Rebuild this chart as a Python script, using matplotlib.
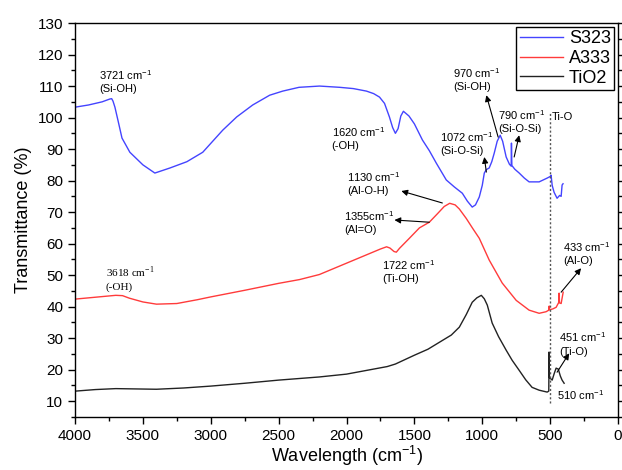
import numpy as np
import matplotlib
matplotlib.use("Agg")
import matplotlib.pyplot as plt
from matplotlib.ticker import MultipleLocator

plt.rcParams['font.family'] = ['Liberation Sans', 'DejaVu Sans']
plt.rcParams['mathtext.fontset'] = 'custom'
plt.rcParams['mathtext.rm'] = 'Liberation Sans'

# ---- data (wavenumber cm-1, transmittance %) ----
s323_wn = [4000, 3900, 3800, 3743, 3730, 3720, 3706, 3684, 3654, 3596, 3500, 3412, 3301,
           3176, 3059, 2912, 2809, 2691, 2566, 2470, 2350, 2199, 2050, 1950, 1853, 1800,
           1757, 1720, 1684, 1660, 1640, 1620, 1600, 1581, 1540, 1500, 1441, 1390, 1338,
           1265, 1206, 1147, 1110, 1074, 1050, 1022, 1000, 985, 970, 949, 930, 912, 890,
           868, 850, 824, 800, 787, 785, 782, 760, 728, 690, 655, 581, 522, 500, 493,
           485, 471, 449, 430, 419, 412, 405]
s323_t = [103.3, 104.0, 105.0, 105.9, 106.0, 105.2, 103.3, 99.2, 93.5, 89.0, 85.0, 82.4, 84.0,
          86.0, 89.0, 96.0, 100.2, 104.0, 107.1, 108.4, 109.6, 110.0, 109.6, 109.2, 108.4, 107.6,
          106.5, 104.5, 100.2, 96.8, 95.0, 96.5, 100.5, 102.0, 100.5, 98.0, 92.9, 89.5, 85.5,
          80.2, 78.0, 76.0, 73.5, 71.6, 72.3, 74.8, 78.5, 82.4, 83.5, 84.0, 86.0, 88.7, 92.5,
          94.4, 92.5, 87.5, 85.2, 84.6, 91.9, 84.8, 83.6, 82.4, 80.8, 79.6, 79.6, 80.8, 81.3, 81.7,
          78.5, 76.3, 74.4, 75.3, 75.0, 78.6, 79.0]

a333_wn = [4000, 3900, 3800, 3700, 3650, 3600, 3500, 3400, 3250, 3100, 3000, 2750, 2500,
           2346, 2200, 2000, 1850, 1750, 1705, 1680, 1650, 1633, 1610, 1537, 1463, 1390,
           1330, 1280, 1240, 1200, 1169, 1118, 1070, 1022, 949, 853, 750, 655, 581, 530,
           510, 507, 504, 480, 456, 436, 434, 431, 419, 404]
a333_t = [42.4, 42.8, 43.2, 43.6, 43.5, 42.7, 41.5, 40.8, 41.0, 42.2, 43.1, 45.2, 47.4,
          48.6, 50.2, 53.8, 56.5, 58.3, 59.0, 58.6, 57.5, 57.3, 58.5, 61.7, 65.0, 66.8,
          69.5, 71.8, 72.8, 72.3, 71.0, 68.0, 64.8, 61.7, 54.8, 47.5, 42.0, 38.9, 37.9, 38.4,
          38.9, 40.2, 39.0, 39.3, 39.8, 41.4, 44.3, 41.2, 41.0, 44.6]

tio2_wn = [4000, 3850, 3700, 3550, 3400, 3200, 3000, 2750, 2500, 2200, 2000, 1800, 1700,
           1640, 1560, 1500, 1400, 1316, 1228, 1169, 1118, 1074, 1040, 1007, 985, 963, 927,
           880, 824, 780, 728, 680, 633, 581, 522, 510, 508, 505, 485, 470, 456, 440, 425,
           412, 397]
tio2_t = [13.2, 13.7, 14.0, 13.9, 13.8, 14.2, 14.8, 15.7, 16.7, 17.7, 18.6, 20.2, 21.0,
          21.8, 23.4, 24.6, 26.5, 28.7, 31.0, 33.5, 37.5, 41.4, 42.8, 43.6, 42.5, 40.5, 34.8,
          30.5, 26.2, 23.0, 19.8, 16.8, 14.4, 13.5, 12.9, 13.2, 25.6, 17.5, 16.7, 18.8, 20.5,
          20.2, 18.0, 16.7, 15.7]

series_names = ['S323', 'A333', 'TiO2']
series_colors = ['#4444ff', '#ff3b3b', '#222222']

# (text, x, y) labels; y is top of the block
labels = [
    ('3721 cm$^{\\mathregular{-1}}$\n(Si-OH)', 3824, 115.7),
    ('1620 cm$^{\\mathregular{-1}}$\n(-OH)', 2110, 97.6),
    ('1072 cm$^{\\mathregular{-1}}$\n(Si-O-Si)', 1309, 96.0),
    ('970 cm$^{\\mathregular{-1}}$\n(Si-OH)', 1213, 116.3),
    ('790 cm$^{\\mathregular{-1}}$\n(Si-O-Si)', 882, 103.0),
    ('1130 cm$^{\\mathregular{-1}}$\n(Al-O-H)', 1993, 83.3),
    ('1355cm$^{\\mathregular{-1}}$\n(Al=O)', 2015, 71.0),
    ('1722 cm$^{\\mathregular{-1}}$\n(Ti-OH)', 1735, 55.4),
    ('433 cm$^{\\mathregular{-1}}$\n(Al-O)', 404, 61.1),
    ('451 cm$^{\\mathregular{-1}}$\n(Ti-O)', 434, 32.5),
]
# arrows: (tail x, tail y, head x, head y)
arrows = [
    (970, 82.7, 985, 87.5),
    (883, 93.8, 970, 107.1),
    (765, 87.5, 728, 94.4),
    (1294, 72.9, 1596, 76.7),
    (1390, 66.8, 1647, 67.5),
    (419, 44.6, 272, 52.2),
    (449, 19.2, 360, 25.2),
]

fig = plt.figure(figsize=(6.22, 4.70), dpi=100)
ax = fig.add_axes([0.1206, 0.1128, 0.8730, 0.8382])

for wn, t, name, c in zip([s323_wn, a333_wn, tio2_wn], [s323_t, a333_t, tio2_t],
                          series_names, series_colors):
    ax.plot(wn, t, color=c, lw=1.0, label=name)

# dotted marker line at 500
ax.plot([500, 500], [9.4, 101.4], color='#555555', lw=1.0, ls=(0, (1.5, 1.5)))
ax.text(485, 100.2, 'Ti-O', fontsize=8, va='center', ha='left')

for txt, x, y in labels:
    ax.text(x, y, txt, fontsize=8, va='top', ha='left', linespacing=1.3)
ax.text(3772, 53.2, '3618 cm$^{\\mathregular{-1}}$\n(-OH)', fontsize=8, va='top', ha='left',
        family=['Liberation Serif', 'DejaVu Serif'], linespacing=1.3)
ax.text(449, 11.9, '510 cm$^{\\mathregular{-1}}$', fontsize=8, va='center', ha='left')

for x0, y0, x1, y1 in arrows:
    ax.annotate('', xy=(x1, y1), xytext=(x0, y0),
                arrowprops=dict(arrowstyle='-|>', color='black', lw=0.8,
                                mutation_scale=9, shrinkA=0, shrinkB=0))

ax.set_xlim(4000, 0)
ax.set_ylim(5, 130)
ax.xaxis.set_major_locator(MultipleLocator(500))
ax.xaxis.set_minor_locator(MultipleLocator(250))
ax.yaxis.set_major_locator(MultipleLocator(10))
ax.yaxis.set_minor_locator(MultipleLocator(5))
ax.set_yticks(np.arange(10, 131, 10))
ax.tick_params(axis='both', which='major', direction='out', length=5, width=1, labelsize=11)
ax.tick_params(axis='both', which='minor', direction='out', length=3, width=1)
ax.tick_params(axis='y', which='both', right=True, labelright=False)
for sp in ax.spines.values():
    sp.set_linewidth(1.0)

ax.set_xlabel('Wavelength (cm$^{\\mathregular{-1}}$)', fontsize=13, labelpad=1)
ax.set_ylabel('Transmittance (%)', fontsize=13, labelpad=4)

leg = ax.legend(loc='upper right', fontsize=13, frameon=True, fancybox=False,
                edgecolor='black', framealpha=1, handlelength=2.4, handletextpad=0.3,
                labelspacing=0.15, borderpad=0.2, borderaxespad=0.2)
leg.get_frame().set_linewidth(1.0)

fig.savefig('out.png', dpi=100)
